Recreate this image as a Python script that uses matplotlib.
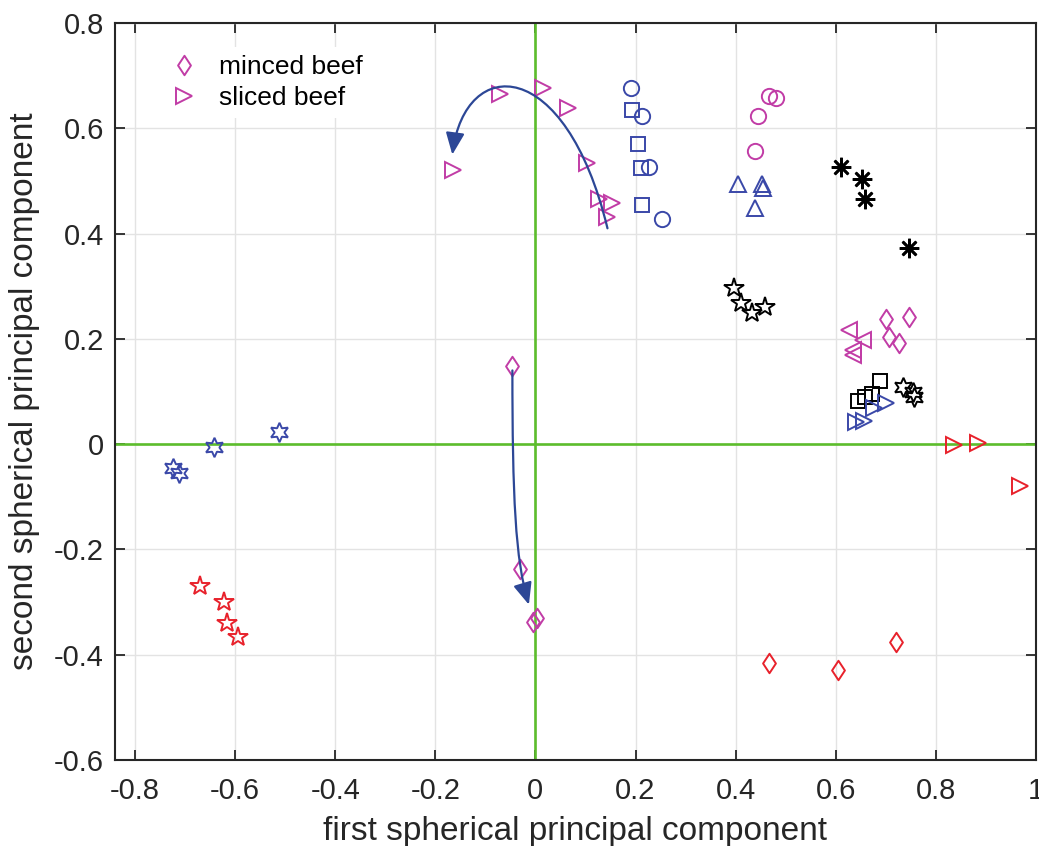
import numpy as np
import matplotlib.pyplot as plt
from matplotlib.path import Path
from matplotlib.patches import FancyArrowPatch

plt.rcParams['font.family'] = ['Liberation Sans', 'DejaVu Sans']

BLUE = '#3a48a8'
MAGENTA = '#c13ca6'
RED = '#e8212b'
BLACK = '#000000'
GREEN = '#5cbd2c'
ARROW = '#2c4796'

# groups: x, y
blue_circ_x = [0.190, 0.212, 0.226, 0.252]
blue_circ_y = [0.677, 0.624, 0.527, 0.427]
blue_sq_x = [0.192, 0.204, 0.210, 0.212]
blue_sq_y = [0.634, 0.571, 0.524, 0.455]
mag_circ_x = [0.467, 0.481, 0.445, 0.439]
mag_circ_y = [0.662, 0.658, 0.624, 0.557]
blue_up_x = [0.405, 0.453, 0.455, 0.439]
blue_up_y = [0.495, 0.495, 0.487, 0.448]
blk_ast_x = [0.611, 0.653, 0.659, 0.747]
blk_ast_y = [0.527, 0.503, 0.465, 0.372]
blk_pent_x = [0.397, 0.411, 0.433, 0.459]
blk_pent_y = [0.296, 0.268, 0.250, 0.260]
blk_hex_x = [0.735, 0.755, 0.757]
blk_hex_y = [0.108, 0.099, 0.089]
blk_sq_x = [0.689, 0.673, 0.659, 0.645]
blk_sq_y = [0.120, 0.095, 0.089, 0.082]
blue_right_x = [0.701, 0.677, 0.641, 0.657]
blue_right_y = [0.078, 0.068, 0.042, 0.043]
mag_dia_r_x = [0.701, 0.747, 0.707, 0.727]
mag_dia_r_y = [0.237, 0.241, 0.203, 0.193]
mag_left_x = [0.627, 0.655, 0.635, 0.635]
mag_left_y = [0.216, 0.197, 0.178, 0.169]
sliced_x = [-0.164, -0.070, 0.016, 0.066, 0.104, 0.128, 0.154, 0.144]
sliced_y = [0.520, 0.666, 0.677, 0.638, 0.535, 0.465, 0.459, 0.431]
minced_x = [-0.046, -0.030, 0.004, -0.004]
minced_y = [0.148, -0.237, -0.330, -0.338]
blue_hex_x = [-0.513, -0.643, -0.725, -0.713]
blue_hex_y = [0.023, -0.006, -0.045, -0.055]
red_pent_x = [-0.671, -0.623, -0.617, -0.595]
red_pent_y = [-0.269, -0.300, -0.340, -0.366]
red_right_x = [0.836, 0.884, 0.968]
red_right_y = [-0.002, 0.002, -0.080]
red_dia_x = [0.467, 0.605, 0.721]
red_dia_y = [-0.416, -0.429, -0.376]

# arrow curves (cubic bezier control points)
arrow1_x = [0.144, 0.060, -0.140, -0.166]
arrow1_y = [0.410, 0.740, 0.740, 0.550]
arrow2_x = [-0.046, -0.046, -0.040, -0.013]
arrow2_y = [0.140, -0.100, -0.220, -0.305]

# matlab-like diamond (wider than 'd')
diamond = Path([(0, 1), (0.66, 0), (0, -1), (-0.66, 0), (0, 1)],
               [Path.MOVETO, Path.LINETO, Path.LINETO, Path.LINETO, Path.CLOSEPOLY])

fig = plt.figure(figsize=(10.39, 8.46), dpi=100)
ax = fig.add_axes([0.1107, 0.1017, 0.8863, 0.8711])

ax.axhline(0, color=GREEN, lw=1.9, zorder=1)
ax.axvline(0, color=GREEN, lw=1.9, zorder=1)

kw = dict(ls='none', mfc='none', mew=1.4, zorder=3)
ax.plot(blue_circ_x, blue_circ_y, 'o', color=BLUE, ms=11, **kw)
ax.plot(blue_sq_x, blue_sq_y, 's', color=BLUE, ms=10, **kw)
ax.plot(mag_circ_x, mag_circ_y, 'o', color=MAGENTA, ms=11, **kw)
ax.plot(blue_up_x, blue_up_y, '^', color=BLUE, ms=12, **kw)
ax.plot(blk_ast_x, blk_ast_y, marker=(8, 2, 0), color=BLACK, ms=14,
        ls='none', mew=1.9, zorder=3)
ax.plot(blk_pent_x, blk_pent_y, '*', color=BLACK, ms=15, **kw)
ax.plot(blk_hex_x, blk_hex_y, marker=(6, 1, 0), color=BLACK, ms=14, **kw)
ax.plot(blk_sq_x, blk_sq_y, 's', color=BLACK, ms=10, **kw)
ax.plot(blue_right_x, blue_right_y, '>', color=BLUE, ms=12, **kw)
ax.plot(mag_dia_r_x, mag_dia_r_y, marker=diamond, color=MAGENTA, ms=14, **kw)
ax.plot(mag_left_x, mag_left_y, '<', color=MAGENTA, ms=12, **kw)
ax.plot(blue_hex_x, blue_hex_y, marker=(6, 1, 0), color=BLUE, ms=14, **kw)
ax.plot(red_pent_x, red_pent_y, '*', color=RED, ms=15, **kw)
ax.plot(red_right_x, red_right_y, '>', color=RED, ms=12, **kw)
ax.plot(red_dia_x, red_dia_y, marker=diamond, color=RED, ms=14, **kw)
h1, = ax.plot(minced_x, minced_y, marker=diamond, color=MAGENTA, ms=14,
              label='minced beef', **kw)
h2, = ax.plot(sliced_x, sliced_y, '>', color=MAGENTA, ms=12, label='sliced beef', **kw)

codes = [Path.MOVETO, Path.CURVE4, Path.CURVE4, Path.CURVE4]
for xs, ys in [(arrow1_x, arrow1_y), (arrow2_x, arrow2_y)]:
    p = Path(np.column_stack([xs, ys]), codes)
    arr = FancyArrowPatch(path=p, arrowstyle='-|>,head_length=0.7,head_width=0.3',
                          mutation_scale=19, color=ARROW, lw=1.6,
                          transform=ax.transData, zorder=4)
    ax.add_patch(arr)

ax.set_xlim(-0.84, 1.0)
ax.set_ylim(-0.6, 0.8)
ax.set_xticks(np.arange(-0.8, 1.01, 0.2))
ax.set_xticklabels(['-0.8', '-0.6', '-0.4', '-0.2', '0', '0.2', '0.4', '0.6', '0.8', '1'])
ax.set_yticks(np.arange(-0.6, 0.81, 0.2))
ax.set_yticklabels(['-0.6', '-0.4', '-0.2', '0', '0.2', '0.4', '0.6', '0.8'])
ax.grid(True, color='#e3e3e3', lw=1.0, zorder=0)
ax.set_axisbelow(True)
ax.tick_params(direction='in', length=7, width=1.3, top=True, right=True,
               labelsize=21, colors='#262626')
ax.tick_params(axis='x', pad=12)
ax.tick_params(axis='y', pad=8)
for s in ax.spines.values():
    s.set_color('#262626')
    s.set_linewidth(1.5)

ax.set_xlabel('first spherical principal component', fontsize=24, color='#262626',
              labelpad=8)
ax.set_ylabel('second spherical principal component', fontsize=24, color='#262626',
              labelpad=10)

leg = ax.legend(handles=[h1, h2], loc='upper left', bbox_to_anchor=(0.03, 0.985),
                fontsize=19, frameon=True, framealpha=1, edgecolor='none',
                handlelength=1.5, handletextpad=0.6, labelspacing=0.25, borderpad=0.3)
leg.get_frame().set_linewidth(0)

fig.savefig('out.png', dpi=100)
